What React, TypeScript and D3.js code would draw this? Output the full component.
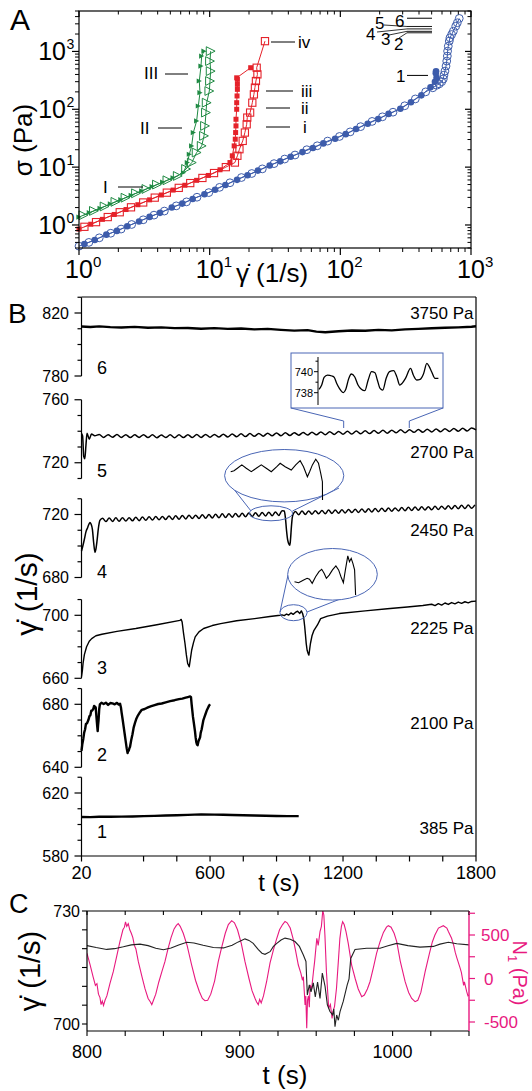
import React from "react";
import * as d3 from "d3";

type P = [number, number];

const FONT = "'Liberation Sans', Arial, Helvetica, sans-serif";
const BLUE = "#3d5cab";
const RED = "#e5222a";
const GREEN = "#1f8a43";
const PINK = "#e8197f";
const INSET = "#4a66b5";

// ---------------- Panel A data: [shear rate (1/s), stress (Pa)] ----------------
const blueFilled: P[] = [[1.1,0.47],[1.32,0.55],[1.62,0.68],[1.95,0.79],[2.34,0.95],[2.88,1.15],[3.47,1.38],[4.17,1.62],[5.13,2.0],[6.17,2.34],[7.41,2.82],[9.12,3.39],[11.0,4.07],[13.2,4.9],[16.2,6.03],[19.5,7.24],[23.4,8.71],[28.8,10.7],[34.7,12.6],[41.7,15.1],[51.3,18.2],[61.7,21.4],[74.1,25.7],[91.2,30.9],[110,37.2],[132,45.7],[162,56.2],[195,67.6],[234,83.2],[288,102],[347,132],[417,174],[490,240],[530,300],[545,350],[538,420],[540,455]];
const blueOpen: P[] = [[1.0,0.43],[1.19,0.5],[1.43,0.6],[1.75,0.72],[2.1,0.85],[2.53,1.02],[3.1,1.23],[3.75,1.48],[4.5,1.74],[5.55,2.14],[6.65,2.51],[8.0,3.02],[9.85,3.63],[11.9,4.47],[14.3,5.37],[17.5,6.61],[21.0,7.76],[25.3,9.33],[31.1,11.5],[37.5,13.8],[45.0,16.2],[55.4,20.0],[66.6,23.4],[80.0,28.2],[98.5,33.9],[119,40.7],[143,50.1],[175,61.7],[210,74.1],[253,89.1],[311,115],[375,151],[450,200],[510,235],[546,260],[572,275],[597,300],[614,335],[621,390],[632,457],[644,558],[652,681],[659,832],[662,1012],[670,1230],[682,1510],[690,1720],[711,1960],[733,2240],[764,2730],[786,3130],[813,3720]];
const redFilled: P[] = [[1.0,0.85],[1.23,1.03],[1.51,1.25],[1.86,1.52],[2.29,1.85],[2.82,2.24],[3.47,2.72],[4.27,3.3],[5.25,4.01],[6.46,4.86],[7.94,5.91],[9.77,7.18],[12.0,9.0],[14.3,12.0],[14.9,15.7],[15.4,23.3],[15.7,30.4],[15.8,39.6],[15.9,51.6],[15.9,67.2],[16.1,100],[16.1,130],[16.2,170],[16.3,221],[16.3,270],[16.3,329],[16.1,350],[20.6,523]];
const redOpen: P[] = [[1.1,0.93],[1.35,1.12],[1.66,1.37],[2.05,1.66],[2.5,2.02],[3.1,2.45],[3.8,2.97],[4.7,3.62],[5.8,4.38],[7.1,5.3],[8.8,6.5],[10.8,7.9],[13.3,10.0],[15.6,12.0],[16.3,15.7],[16.9,20.4],[17.9,28.4],[18.6,39.6],[19.2,55],[19.4,71.8],[20.4,87.7],[21.2,130],[21.8,181],[22.2,237],[22.6,308],[23.2,401],[22.9,523],[26.5,1506]];
const greenFilled: P[] = [[1.0,1.37],[1.2,1.63],[1.45,1.94],[1.74,2.31],[2.09,2.74],[2.51,3.26],[3.02,3.88],[3.63,4.61],[4.37,5.5],[5.25,6.53],[6.31,8.0],[6.75,12.0],[6.99,16.7],[7.28,23.3],[7.5,39.6],[7.95,63],[8.19,114],[8.43,194],[8.33,308],[8.58,558],[8.69,832],[9.05,1012]];
const greenOpen: P[] = [[1.08,1.47],[1.3,1.75],[1.57,2.09],[1.9,2.51],[2.27,2.96],[2.73,3.53],[3.28,4.19],[3.95,4.99],[4.75,5.93],[5.7,7.04],[6.6,9.3],[7.3,12.0],[7.95,17.9],[8.69,23.3],[9.05,34.7],[9.21,51.6],[9.37,87.7],[9.49,130],[9.94,207],[10.06,308],[10.18,457],[10.06,681],[10.18,1012]];
const runStress = [385, 2100, 2225, 2450, 2700, 3750];
const runNames = ["1", "2", "3", "4", "5", "6"];
const decadesA = [1, 10, 100, 1000];
const decadeExpA = ["0", "1", "2", "3"];

// ---------------- Panel B data: [t (s), shear rate (1/s)] ----------------
const bTicks = [20, 300, 450, 600, 750, 900, 1050, 1200, 1350, 1500, 1650, 1800];
const bTickLabels = [20, 600, 1200, 1800];
const sub6Data: P[] = [[20,811.4],[60,811.1],[100,811.5],[150,811.0],[200,810.8],[260,811.2],[320,810.6],[380,810.9],[440,810.4],[500,810.5],[560,810.0],[620,810.4],[680,809.9],[740,810.2],[800,809.6],[860,809.9],[920,809.3],[980,808.8],[1040,809.1],[1080,808.2],[1120,807.8],[1180,808.4],[1240,808.9],[1300,808.7],[1360,809.3],[1420,809.0],[1480,809.6],[1540,809.9],[1600,810.3],[1660,810.6],[1720,810.9],[1780,811.3],[1800,811.6]];
const sub5Start: P[] = [[20,738.5],[25,737],[30,724],[35,722.5],[40,731],[45,738.8],[55,735],[65,738.2],[80,737.2]];
const sub5WiggleT0 = 100;
const sub5WiggleStep = 20;
const sub5Wiggle = [737.9,736.1,737.8,736.2,737.9,736.1,737.8,736.0,737.7,736.1,737.8,736.0,737.7,735.9,737.6,736.0,737.7,735.9,737.7,736.0,737.8,736.0,737.9,736.1,738.0,736.2,738.0,736.3,738.1,736.4,738.2,736.5,738.4,736.6,738.5,736.8,738.6,736.9,738.8,737.1,738.9,737.2,739.0,737.3,739.1,737.5,739.2,737.6,739.4,737.7,739.6,737.8,739.7,738.0,739.9,738.1,740.0,738.2,740.1,738.4,740.3,738.5,740.4,738.7,740.6,738.8,740.7,739.0,740.9,739.1,741.0,739.3,741.1,739.4,741.3,739.6,741.4,739.7,741.6,739.9,741.7,740.0,741.9,740.2,742.0,740.8];
const sub4Start: P[] = [[20,696.8],[26,700],[33,704.3],[40,709],[48,711.8],[54,714],[58,715],[63,714],[69,710.7],[75,702],[81,695.8],[85,698],[90,703.2],[96,711],[103,716.2]];
const sub4WiggleAT0 = 115;
const sub4WiggleBT0 = 985;
const sub4WiggleStep = 15;
const sub4WiggleA = [717.6,715.5,717.8,715.6,717.9,715.7,718.0,715.9,718.0,716.0,718.3,716.1,718.4,716.3,718.5,716.5,718.7,716.6,718.8,716.8,719.1,716.9,719.2,717.0,719.4,717.2,719.6,717.4,719.6,717.5,719.9,717.6,720.0,717.8,720.1,718.0,720.4,718.1,720.5,718.3,720.6,718.5,720.8,718.6,721.0,718.7,721.1,718.9,721.3,719.1,721.5,719.2,721.6,719.4,722.4];
const sub4Dip: P[] = [[935,722.2],[940,718],[945,710],[950,704],[955,701.5],[960,700.5],[963,704],[967,712],[971,718],[976,720.5]];
const sub4WiggleB = [721.9,719.9,722.2,720.0,722.3,720.2,722.4,720.4,722.6,720.5,722.8,720.7,722.9,720.8,723.0,721.0,723.2,721.2,723.4,721.3,723.5,721.5,723.6,721.6,723.8,721.8,724.0,721.9,724.1,722.1,724.2,722.3,724.4,722.4,724.6,722.6,724.7,722.7,724.9,722.9,725.0,723.0,725.2,723.2,725.3,723.4,725.5,723.5,725.7,723.7,725.8,723.8,726.0,724.0,726.1];
const sub3Data: P[] = [[20,661],[24,665],[27,669.4],[33,675],[43,680],[55,683.5],[66,685.2],[85,687],[112,688],[180,689.8],[265,691.6],[360,694],[464,696.8],[470,697.4],[474,695.8],[480,689],[487,682.1],[493,675],[499,669.4],[506,667.3],[511,672],[517,677.8],[525,682.5],[533,686.3],[550,689.5],[571,691.6],[610,693.5],[648,694.7],[720,696.5],[801,697.9],[870,699.2],[916,700],[925,700.3],[935,699.8],[945,700.8],[955,700.2],[965,701.5],[975,700.6],[985,701.8],[995,702.6],[1005,701.2],[1012,702.8],[1018,701],[1023,697.9],[1027,693],[1030,688.4],[1034,682],[1038,677.8],[1042,676],[1046,674.7],[1050,679],[1053,682.1],[1060,687],[1069,690.5],[1084,693.7],[1099,697.9],[1130,699.5],[1183,701.1],[1300,702.8],[1400,704.2],[1490,705.3],[1560,706.2],[1600,707],[1615,706.2],[1630,707.4],[1645,706.5],[1660,707.8],[1675,706.9],[1690,708.1],[1705,707.3],[1720,708.4],[1735,707.6],[1750,708.6],[1765,707.9],[1780,708.8],[1800,709]];
const sub2Data: P[] = [[20,650.5],[24,655],[28,658],[32,662],[36,664],[40,667.5],[45,668],[51,670],[56,672.5],[60,673],[64,676],[68,676],[73,677],[77,679],[80,678.5],[84,678],[88,671],[91,666],[93,663],[95,667],[97,670],[100,677],[103,680],[110,681],[120,680.2],[130,681],[140,679.6],[150,680.8],[160,680.6],[170,680],[180,680.9],[188,679.8],[194,680.4],[198,678],[201,674.7],[206,670],[210,666],[215,661],[220,656],[224,652],[228,649],[231,651],[233,650.5],[236,652],[239,653],[244,657],[250,661],[255,665],[261,668],[268,671],[275,673],[284,675],[292,676.5],[305,677],[320,678],[335,678.8],[350,679.5],[366,680.2],[382,680.5],[400,681.2],[420,682],[440,682.6],[460,683.3],[475,683.6],[490,684.2],[500,684.6],[510,685],[514,684.5],[517,680],[520,676],[523,672],[528,667],[532,663],[535,659],[538,656],[541,654.5],[544,654],[547,656],[549,657],[552,658],[555,659],[558,662],[562,664],[566,667],[570,670],[575,672],[580,674],[585,676],[590,677.5],[595,679],[600,680]];
const sub1Data: P[] = [[20,604.8],[60,604.7],[100,604.9],[150,604.9],[200,605.0],[250,605.1],[300,605.3],[350,605.5],[400,605.7],[450,605.9],[500,606.1],[560,606.4],[620,606.3],[660,606.2],[700,606.0],[750,605.9],[800,605.7],[850,605.6],[900,605.4],[950,605.3],[1000,605.3]];
// inset zooms (same quantities, magnified)
const inset5Data: P[] = [[1203,738.32],[1209.7,738.73],[1215.6,739.46],[1224,739.68],[1235,739.59],[1240.8,739.46],[1246.7,738.89],[1253.5,738.41],[1263.5,738.0],[1268.6,738.25],[1277,739.37],[1282.9,739.78],[1291.3,739.52],[1299.7,738.73],[1308.1,738.32],[1316.5,738.19],[1324.9,739.21],[1333.3,740.0],[1341.7,739.9],[1347.6,739.21],[1354.4,738.41],[1361.1,738.25],[1369.5,739.37],[1377.9,740.0],[1388,740.1],[1396.4,739.46],[1403.1,738.73],[1409,738.89],[1417.4,739.37],[1430,740.32],[1436.8,739.68],[1445.2,739.21],[1453.6,739.27],[1462,739.78],[1470.4,740.79],[1476.3,740.48],[1482.2,740.0],[1490.6,739.37],[1499,739.37]];
const inset4Data: P[] = [[800,722.0],[806,722.25],[812,722.85],[820,723.7],[828,722.85],[837,722.0],[846,722.85],[855,723.7],[864,722.85],[873,722.0],[883,723.25],[889,724.1],[898,723.25],[909,722.4],[917,723.7],[925,724.75],[931,723.25],[938,720.75],[942,722.0],[947,723.7],[953,725.1],[958,724.1],[962,721.6],[965,719.5],[965.2,714.9]];
const inset3Data: P[] = [[915,699.15],[922.7,698.9],[932.3,699.6],[938.7,700],[943.2,699.75],[948.3,698.75],[954.7,700.4],[961.1,701.65],[966.2,702.25],[970.7,701.25],[975,700],[980.3,700.8],[986.5,702.1],[992.9,703.1],[998,702.1],[1002.5,700.4],[1007,698.9],[1010.8,702.1],[1015.3,705.6],[1018.5,704.15],[1021.7,705],[1024.9,703.75],[1028.1,702.1],[1030,695.8]];

// ---------------- Panel C data ----------------
const cTimeTicks = [800, 825, 850, 875, 900, 925, 950, 975, 1000, 1025, 1050];
const cTimeLabels = [800, 900, 1000];
const cRateTicks = [700, 705, 710, 715, 720, 725, 730];
const cRateLabels = [700, 730];
const cN1Ticks = [-500, -250, 0, 250, 500, 750];
const cN1Labels = [500, 0, -500];
const cRate: P[] = [[800,720.8],[806,720.3],[812.9,719.8],[818,720.0],[823.8,720.5],[829,721.0],[834.7,721.2],[840,720.8],[845,720.1],[850,719.7],[855,720.2],[860,721.0],[865.3,721.7],[870,721.5],[876,720.9],[882.7,720.3],[889.3,720.2],[895,720.9],[899,721.8],[903.4,722.6],[906,722.2],[908.8,721.4],[912,719.8],[914.5,718.8],[916.5,718.5],[919.8,719.2],[922,720.6],[924.2,721.4],[927,722.3],[929.6,722.8],[933,722.5],[936.1,721.9],[939,720.6],[941.6,718.3],[943.3,716.6],[944.2,707.7],[945.5,710.4],[946.6,708.5],[948.1,710.9],[949.4,707.2],[950.9,711.1],[952.5,706.8],[954,713.5],[955.8,710],[957.3,705.1],[959,703.3],[960.8,702.4],[961.5,704],[962.3,699.3],[963.4,702.4],[964.5,701],[965.6,703.3],[967.7,706],[970.3,710.4],[971.5,712],[972.6,717.4],[975.4,719.8],[983,720.1],[991.8,720.1],[997,720.8],[1002.7,721.4],[1010,720.8],[1017.9,720.4],[1026.7,720.6],[1031,721.2],[1036.5,721.7],[1042,721.3],[1050,721.0]];
const cN1: P[] = [[800,290],[802,160],[804,20],[805.5,-80],[806.5,-60],[807.5,-180],[808.5,-220],[809.2,-300],[810,-260],[810.8,-310],[811.8,-250],[813,-200],[815,-60],[817.2,78],[819.5,260],[821.5,420],[823.5,560],[824.5,590],[825.2,650],[826,600],[827,630],[828,560],[829,520],[830,470],[831,380],[832,340],[833.6,193],[836,20],[838,-120],[840,-230],[841.5,-270],[842.4,-300],[843.5,-250],[845,-180],[847,-40],[849,80],[851,193],[853,340],[855,470],[857,570],[858.5,610],[859.7,630],[861,600],[863,520],[865.5,380],[868.5,155],[871,-20],[873.5,-150],[875.5,-230],[877.2,-255],[879,-250],[881,-180],[883.5,-30],[885.9,193],[888,350],[890.5,520],[892.5,620],[894.7,665],[896.5,640],[898.5,560],[901,400],[903.4,193],[906,0],[908,-140],[910,-230],[911,-270],[912.1,-300],[913,-240],[914,-280],[915.5,-200],[917.5,-40],[919.8,180],[922,330],[924,450],[926,560],[928,620],[929.6,655],[931,640],[933,580],[935,450],[936.5,320],[938.3,155],[940,60],[941,-20],[941.6,21],[942.2,-150],[942.7,-305],[943.2,-200],[943.8,-572],[944.3,-250],[944.9,-200],[945.5,-330],[946,-75],[947,-120],[948.2,78],[949,200],[950.4,462],[951.3,380],[952.5,538],[953.4,600],[954.3,780],[955,730],[955.7,500],[956.7,78],[957.5,-150],[958.2,-343],[959.3,-300],[960.4,-458],[961,-380],[962,-320],[963.3,-110],[964.5,200],[965.5,462],[966.5,600],[967.3,653],[968.3,620],[969.5,538],[971,400],[973.2,155],[975.5,0],[977.5,-120],[979.8,-209],[981.5,-190],[983.5,-120],[985.2,-37],[987.5,130],[989.5,290],[991.8,423],[994,530],[996,590],[997.2,607],[999,590],[1001,520],[1002.7,423],[1005,200],[1008.2,-37],[1010.5,-160],[1012.5,-230],[1014.7,-266],[1016.5,-250],[1018.5,-160],[1021.3,78],[1024,280],[1026,420],[1027.7,500],[1030,580],[1033.2,607],[1035.5,580],[1036.5,540],[1038.6,462],[1040,380],[1041,300],[1042,240],[1044.1,125],[1045,70],[1046.5,-80],[1047,-40],[1048.5,-152],[1049.3,-200],[1050,-190]];

const GDOT = "\u03b3\u0307";

// ================= Panel A =================
function PanelA() {
  const L = 79, R = 471, T = 11, B = 248;
  const x = d3.scaleLog().domain([1, 1000]).range([L, R]);
  const y = d3.scaleLog().domain([0.4, 5000]).range([B, T]);
  const ln = d3.line<P>().x(d => x(d[0])).y(d => y(d[1]));
  const xMinor: number[] = [];
  [1, 10, 100].forEach(k => { for (let m = 2; m <= 9; m++) xMinor.push(k * m); });
  const yMinor: number[] = [];
  [0.1, 1, 10, 100, 1000].forEach(k => { for (let m = 2; m <= 9; m++) { const v = k * m; if (v >= 0.4 && v <= 5000) yMinor.push(v); } });

  const tri = (s: number) => `M${-s},${-s}L${s},0L${-s},${s}Z`;
  const hx = 407;
  return (
    <g>
      <path d={ln(blueOpen) || ""} fill="none" stroke={BLUE} strokeWidth={1} />
      <path d={ln(blueFilled) || ""} fill="none" stroke={BLUE} strokeWidth={1} />
      <path d={ln(redOpen) || ""} fill="none" stroke={RED} strokeWidth={1} />
      <path d={ln(redFilled) || ""} fill="none" stroke={RED} strokeWidth={1} />
      <path d={ln(greenOpen) || ""} fill="none" stroke={GREEN} strokeWidth={1} />
      <path d={ln(greenFilled) || ""} fill="none" stroke={GREEN} strokeWidth={1} />
      {blueOpen.map((d, i) => <circle key={"bo" + i} cx={x(d[0])} cy={y(d[1])} r={3.9} fill="none" stroke={BLUE} strokeWidth={1} />)}
      {blueFilled.map((d, i) => <circle key={"bf" + i} cx={x(d[0])} cy={y(d[1])} r={3.3} fill={BLUE} />)}
      {redOpen.map((d, i) => <rect key={"ro" + i} x={x(d[0]) - 3.6} y={y(d[1]) - 3.6} width={7.2} height={7.2} fill="none" stroke={RED} strokeWidth={1.1} />)}
      {redFilled.map((d, i) => <rect key={"rf" + i} x={x(d[0]) - 2.5} y={y(d[1]) - 2.5} width={5} height={5} fill={RED} />)}
      {greenOpen.map((d, i) => <path key={"go" + i} transform={`translate(${x(d[0])},${y(d[1])})`} d={tri(4.4)} fill="none" stroke={GREEN} strokeWidth={1} />)}
      {greenFilled.map((d, i) => <path key={"gf" + i} transform={`translate(${x(d[0])},${y(d[1])})`} d={tri(2.6)} fill={GREEN} />)}

      <rect x={L} y={T} width={R - L} height={B - T} fill="none" stroke="#000" strokeWidth={1.2} />
      {decadesA.map((v, i) => (
        <g key={"xd" + i}>
          <line x1={x(v)} x2={x(v)} y1={B} y2={B + 7} stroke="#000" strokeWidth={1.2} />
          <line x1={x(v)} x2={x(v)} y1={T} y2={T + 6} stroke="#000" strokeWidth={1.2} />
          <text x={x(v)} y={278} textAnchor="middle" fontSize={25}>10</text>
          <text x={x(v) + 14} y={267} fontSize={15}>{decadeExpA[i]}</text>
          <line y1={y(v)} y2={y(v)} x1={L - 7} x2={L} stroke="#000" strokeWidth={1.2} />
          <line y1={y(v)} y2={y(v)} x1={R - 6} x2={R} stroke="#000" strokeWidth={1.2} />
          <text x={66} y={y(v) + 9} textAnchor="end" fontSize={25}>10</text>
          <text x={66.5} y={y(v) - 2} fontSize={14}>{decadeExpA[i]}</text>
        </g>
      ))}
      {xMinor.map((v, i) => (
        <g key={"xm" + i}>
          <line x1={x(v)} x2={x(v)} y1={B} y2={B + 4} stroke="#000" strokeWidth={1} />
          <line x1={x(v)} x2={x(v)} y1={T} y2={T + 3.5} stroke="#000" strokeWidth={1} />
        </g>
      ))}
      {yMinor.map((v, i) => (
        <g key={"ym" + i}>
          <line y1={y(v)} y2={y(v)} x1={L - 4} x2={L} stroke="#000" strokeWidth={1} />
          <line y1={y(v)} y2={y(v)} x1={R - 3.5} x2={R} stroke="#000" strokeWidth={1} />
        </g>
      ))}

      <text x={10} y={30} fontSize={30}>A</text>
      <text transform="translate(32,140) rotate(-90)" textAnchor="middle" fontSize={26}>σ (Pa)</text>
      <text x={272} y={282} textAnchor="middle" fontSize={26}>{GDOT} (1/s)</text>

      <g fontSize={17}>
        <text x={144} y={79}>III</text>
        <line x1={165} x2={188} y1={74} y2={74} stroke="#000" strokeWidth={1} />
        <text x={140} y={134}>II</text>
        <line x1={158} x2={182} y1={128} y2={128} stroke="#000" strokeWidth={1} />
        <text x={103} y={193}>I</text>
        <line x1={118} x2={143} y1={187} y2={187} stroke="#000" strokeWidth={1} />
        <line x1={271} x2={295} y1={42} y2={42} stroke="#000" strokeWidth={1} />
        <text x={298} y={48}>iv</text>
        <line x1={266} x2={293} y1={91} y2={91} stroke="#000" strokeWidth={1} />
        <text x={301} y={97}>iii</text>
        <line x1={266} x2={290} y1={108} y2={108} stroke="#000" strokeWidth={1} />
        <text x={301} y={114}>ii</text>
        <line x1={266} x2={290} y1={127} y2={127} stroke="#000" strokeWidth={1} />
        <text x={303} y={133}>i</text>
      </g>
      <g fontSize={17}>
        {runStress.map((s, i) => (
          <line key={"rl" + i} x1={hx} x2={i === 0 ? 428 : 432} y1={y(s)} y2={y(s)} stroke="#000" strokeWidth={i === 0 || i === 5 ? 1 : 0.9} />
        ))}
        <text x={396} y={82}>{runNames[0]}</text>
        <text x={394} y={50}>{runNames[1]}</text>
        <line x1={399} x2={hx} y1={38} y2={y(runStress[1])} stroke="#000" strokeWidth={0.8} />
        <text x={381} y={45}>{runNames[2]}</text>
        <line x1={389} x2={hx} y1={35} y2={y(runStress[2])} stroke="#000" strokeWidth={0.8} />
        <text x={366} y={40}>{runNames[3]}</text>
        <line x1={377} x2={hx} y1={32} y2={y(runStress[3])} stroke="#000" strokeWidth={0.8} />
        <text x={375} y={29}>{runNames[4]}</text>
        <line x1={384} x2={hx} y1={25} y2={y(runStress[4])} stroke="#000" strokeWidth={0.8} />
        <text x={395} y={27}>{runNames[5]}</text>
      </g>
    </g>
  );
}

// ================= Panel B =================
function seq(t0: number, step: number, vals: number[]): P[] {
  return vals.map((v, i) => [t0 + i * step, v] as P);
}

function PanelB() {
  const L = 81.5, R = 476, T = 297, Bt = 856;
  const x = d3.scaleLinear().domain([20, 1800]).range([L, R]);
  const PX = 1.575;
  const sub5 = [...sub5Start, ...seq(sub5WiggleT0, sub5WiggleStep, sub5Wiggle)];
  const sub4 = [...sub4Start, ...seq(sub4WiggleAT0, sub4WiggleStep, sub4WiggleA), ...sub4Dip, ...seq(sub4WiggleBT0, sub4WiggleStep, sub4WiggleB)];
  const subs = [
    { data: sub6Data, lo: 780, hi: 830, bottom: 376, labeled: [780, 820], num: "6", numY: 374, press: "3750 Pa", pressY: 319, sw: 2.4, smooth: false },
    { data: sub5, lo: 710, hi: 760, bottom: 478.5, labeled: [720, 760], num: "5", numY: 477, press: "2700 Pa", pressY: 458, sw: 1.5, smooth: true },
    { data: sub4, lo: 680, hi: 730, bottom: 577.5, labeled: [680, 720], num: "4", numY: 578, press: "2450 Pa", pressY: 536, sw: 1.5, smooth: true },
    { data: sub3Data, lo: 660, hi: 710, bottom: 678.3, labeled: [660, 700], num: "3", numY: 674, press: "2225 Pa", pressY: 634, sw: 1.4, smooth: false },
    { data: sub2Data, lo: 640, hi: 690, bottom: 767.3, labeled: [640, 680], num: "2", numY: 761, press: "2100 Pa", pressY: 729, sw: 2.4, smooth: false },
    { data: sub1Data, lo: 580, hi: 630, bottom: 856, labeled: [580, 620], num: "1", numY: 838, press: "385 Pa", pressY: 834, sw: 2.4, smooth: false },
  ];
  const scales = subs.map(s => d3.scaleLinear().domain([s.lo, s.hi]).range([s.bottom, s.bottom - (s.hi - s.lo) * PX]));

  const i5x = d3.scaleLinear().domain([1203, 1499]).range([319, 438.4]);
  const i5y = d3.scaleLinear().domain([738, 740]).range([392.7, 371.7]);
  const i5line = d3.line<P>().x(d => i5x(d[0])).y(d => i5y(d[1])).curve(d3.curveMonotoneX);
  const i4x = d3.scaleLinear().domain([800, 965]).range([230.7, 322.4]);
  const i4y = d3.scaleLinear().domain([721, 722]).range([475.7, 471.7]);
  const i4line = d3.line<P>().x(d => i4x(d[0])).y(d => i4y(d[1]));
  const i3x = d3.scaleLinear().domain([915, 1030]).range([294.5, 355.6]);
  const i3y = d3.scaleLinear().domain([701, 702]).range([574.3, 570.3]);
  const i3line = d3.line<P>().x(d => i3x(d[0])).y(d => i3y(d[1]));

  return (
    <g>
      <line x1={L} x2={R} y1={T} y2={T} stroke="#000" strokeWidth={1.2} />
      <line x1={R} x2={R} y1={T} y2={Bt} stroke="#000" strokeWidth={1.2} />
      <line x1={L} x2={R} y1={Bt} y2={Bt} stroke="#000" strokeWidth={1.2} />
      {bTicks.map((t, i) => <line key={"bt" + i} x1={x(t)} x2={x(t)} y1={Bt} y2={Bt + 5.5} stroke="#000" strokeWidth={1.2} />)}
      {bTickLabels.map((t, i) => <text key={"btl" + i} x={x(t)} y={879} textAnchor="middle" fontSize={18}>{t}</text>)}
      <text x={279} y={891} textAnchor="middle" fontSize={24}>t (s)</text>
      <text x={8} y={323} fontSize={28}>B</text>
      <text transform="translate(37,594) rotate(-90)" textAnchor="middle" fontSize={30}>{GDOT} (1/s)</text>

      {subs.map((s, k) => {
        const y = scales[k];
        const ticks = d3.range(s.lo, s.hi + 0.1, 10);
        const ln = d3.line<P>().x(d => x(d[0])).y(d => y(d[1])).curve(s.smooth ? d3.curveMonotoneX : d3.curveLinear);
        return (
          <g key={"sub" + k}>
            <line x1={L} x2={L} y1={y(s.lo)} y2={y(s.hi)} stroke="#000" strokeWidth={1.2} />
            {ticks.map((v, j) => {
              const lab = s.labeled.includes(v);
              return <line key={j} x1={L - (lab ? 7 : 4)} x2={L} y1={y(v)} y2={y(v)} stroke="#000" strokeWidth={1.2} />;
            })}
            {s.labeled.map((v, j) => <text key={"l" + j} x={69} y={y(v) + 5.5} textAnchor="end" fontSize={16}>{v}</text>)}
            <path d={ln(s.data) || ""} fill="none" stroke="#000" strokeWidth={s.sw} strokeLinejoin="round" />
            <text x={97} y={s.numY} fontSize={18}>{s.num}</text>
            <text x={473.5} y={s.pressY} textAnchor="end" fontSize={17}>{s.press}</text>
          </g>
        );
      })}

      <rect x={291} y={353} width={152} height={55} fill="#fff" stroke={INSET} strokeWidth={1} />
      <polyline points={`291,408 ${x(1203)},421 ${x(1203)},428`} fill="none" stroke={INSET} strokeWidth={1} />
      <polyline points={`443,408 ${x(1499)},421 ${x(1499)},428`} fill="none" stroke={INSET} strokeWidth={1} />
      <line x1={318} x2={318} y1={357} y2={405} stroke="#000" strokeWidth={1} />
      {[738, 739, 740, 741].map((v, j) => <line key={"i5t" + j} x1={v % 2 === 0 ? 314 : 315.5} x2={318} y1={i5y(v)} y2={i5y(v)} stroke="#000" strokeWidth={1} />)}
      {[738, 740].map((v, j) => <text key={"i5l" + j} x={313} y={i5y(v) + 4} textAnchor="end" fontSize={11}>{v}</text>)}
      <path d={i5line(inset5Data) || ""} fill="none" stroke="#000" strokeWidth={1.3} />

      <ellipse cx={271} cy={513.3} rx={21.5} ry={7.5} fill="none" stroke={INSET} strokeWidth={1} />
      <line x1={251} y1={511} x2={229} y2={483} stroke={INSET} strokeWidth={1} />
      <line x1={292.5} y1={511} x2={339} y2={488} stroke={INSET} strokeWidth={1} />
      <ellipse cx={284.2} cy={475.7} rx={59.6} ry={26.2} fill="#fff" stroke={INSET} strokeWidth={1} />
      <path d={i4line(inset4Data) || ""} fill="none" stroke="#000" strokeWidth={1.1} />

      <ellipse cx={293.5} cy={612.7} rx={13.6} ry={8} fill="none" stroke={INSET} strokeWidth={1} />
      <line x1={280} y1={612} x2={288} y2={575} stroke={INSET} strokeWidth={1} />
      <line x1={307} y1={612} x2={353} y2={594} stroke={INSET} strokeWidth={1} />
      <ellipse cx={332.5} cy={574.3} rx={44.8} ry={25.8} fill="#fff" stroke={INSET} strokeWidth={1} />
      <path d={i3line(inset3Data) || ""} fill="none" stroke="#000" strokeWidth={1.1} />
    </g>
  );
}

// ================= Panel C =================
function PanelC() {
  const L = 87, R = 469, T = 911, Bt = 1031;
  const x = d3.scaleLinear().domain([800, 1050]).range([L, R]);
  const y = d3.scaleLinear().domain([700, 730]).range([1024, 911]);
  const n = d3.scaleLinear().domain([-500, 500]).range([1022, 935]);
  const lnR = d3.line<P>().x(d => x(d[0])).y(d => y(d[1]));
  const lnN = d3.line<P>().x(d => x(d[0])).y(d => n(d[1]));
  return (
    <g>
      <defs>
        <clipPath id="clipC"><rect x={L} y={T} width={R - L} height={Bt - T} /></clipPath>
      </defs>
      <g clipPath="url(#clipC)">
        <path d={lnN(cN1) || ""} fill="none" stroke={PINK} strokeWidth={1.1} />
        <path d={lnR(cRate) || ""} fill="none" stroke="#222" strokeWidth={1.1} />
      </g>
      <line x1={L} x2={R} y1={T} y2={T} stroke="#000" strokeWidth={1.2} />
      <line x1={L} x2={R} y1={Bt} y2={Bt} stroke="#000" strokeWidth={1.2} />
      <line x1={L} x2={L} y1={T} y2={Bt} stroke="#000" strokeWidth={1.2} />
      <line x1={R} x2={R} y1={T} y2={Bt} stroke={PINK} strokeWidth={1.4} />
      {cTimeTicks.map((t, i) => (
        <g key={"ct" + i}>
          <line x1={x(t)} x2={x(t)} y1={Bt} y2={Bt + 5} stroke="#000" strokeWidth={1.1} />
          <line x1={x(t)} x2={x(t)} y1={T} y2={T + 4} stroke="#000" strokeWidth={1.1} />
        </g>
      ))}
      {cTimeLabels.map((t, i) => <text key={"ctl" + i} x={x(t)} y={1058} textAnchor="middle" fontSize={18}>{t}</text>)}
      {cRateTicks.map((v, i) => <line key={"cr" + i} x1={L - 5} x2={L} y1={y(v)} y2={y(v)} stroke="#000" strokeWidth={1.1} />)}
      {cRateLabels.map((v, i) => <text key={"crl" + i} x={80} y={y(v) + 5.5} textAnchor="end" fontSize={16}>{v}</text>)}
      {cN1Ticks.map((v, i) => <line key={"cn" + i} x1={R} x2={R + 6} y1={n(v)} y2={n(v)} stroke={PINK} strokeWidth={1.2} />)}
      {cN1Labels.map((v, i) => <text key={"cnl" + i} x={v === 500 ? 481 : 484} y={n(v) + 6} fontSize={17} fill={PINK}>{v}</text>)}
      <text x={9} y={913} fontSize={27}>C</text>
      <text transform="translate(40,971) rotate(-90)" textAnchor="middle" fontSize={29}>{GDOT} (1/s)</text>
      <text transform="translate(513,973) rotate(90)" textAnchor="middle" fontSize={20} fill={PINK}>N<tspan fontSize={13} dy={5}>1</tspan><tspan dy={-5}> (Pa)</tspan></text>
      <text x={285} y={1084} textAnchor="middle" fontSize={26}>t (s)</text>
    </g>
  );
}

export default function App() {
  return (
    <svg width={532} height={1091} viewBox="0 0 532 1091" fontFamily={FONT}
      style={{ position: "absolute", left: 0, top: 0, display: "block", background: "#fff" }}>
      <rect x={0} y={0} width={532} height={1091} fill="#fff" />
      <PanelA />
      <PanelB />
      <PanelC />
    </svg>
  );
}
